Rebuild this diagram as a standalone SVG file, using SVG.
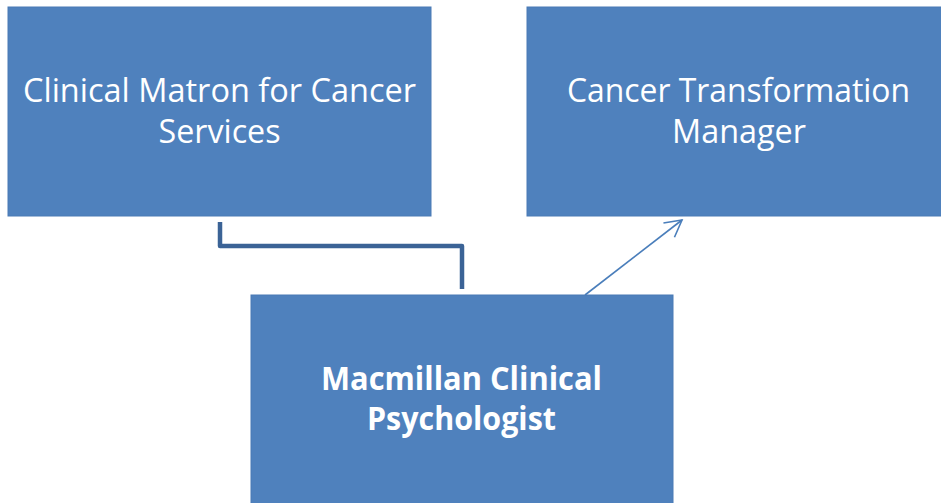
<svg xmlns="http://www.w3.org/2000/svg" width="941" height="503" viewBox="0 0 941 503">
  <style>
    .box { fill: #4f81bd; stroke: #4a7ab5; stroke-width: 1; }
    .lbl { fill: #ffffff; font-family: "Open Sans", "Liberation Sans", sans-serif; font-size: 32px; text-anchor: middle; }
    .bold { font-weight: bold; }
    .elbow { fill: none; stroke: #3b6396; stroke-width: 4.5; stroke-linejoin: round; }
    .link { fill: none; stroke: #4a7ebb; stroke-width: 1.6; }
  </style>
  <defs>
    <marker id="open-arrow" markerWidth="20" markerHeight="20" refX="18" refY="10" orient="auto" markerUnits="userSpaceOnUse">
      <path d="M1.5,1 L18,10 L1.5,19" fill="none" stroke="#4a7ebb" stroke-width="1.6"/>
    </marker>
  </defs>
  <rect width="941" height="503" fill="#ffffff"/>

  <g id="connectors">
    <path class="elbow" d="M220,222 V246 H462 V289"/>
    <path class="link" d="M585,295 L682,220" marker-end="url(#open-arrow)"/>
  </g>

  <g id="clinical-matron">
    <rect class="box" x="8" y="7" width="423" height="209"/>
    <text class="lbl" x="219.5" y="102" textLength="393" lengthAdjust="spacingAndGlyphs">Clinical Matron for Cancer</text>
    <text class="lbl" x="219.5" y="143" textLength="122" lengthAdjust="spacingAndGlyphs">Services</text>
  </g>

  <g id="transformation-manager">
    <rect class="box" x="527" y="7" width="415" height="209"/>
    <text class="lbl" x="738.5" y="102" textLength="343" lengthAdjust="spacingAndGlyphs">Cancer Transformation</text>
    <text class="lbl" x="739" y="143" textLength="134" lengthAdjust="spacingAndGlyphs">Manager</text>
  </g>

  <g id="clinical-psychologist">
    <rect class="box" x="251" y="295" width="422" height="210"/>
    <text class="lbl bold" x="461.5" y="390" textLength="281" lengthAdjust="spacingAndGlyphs">Macmillan Clinical</text>
    <text class="lbl bold" x="461.5" y="430" textLength="189" lengthAdjust="spacingAndGlyphs">Psychologist</text>
  </g>
</svg>
